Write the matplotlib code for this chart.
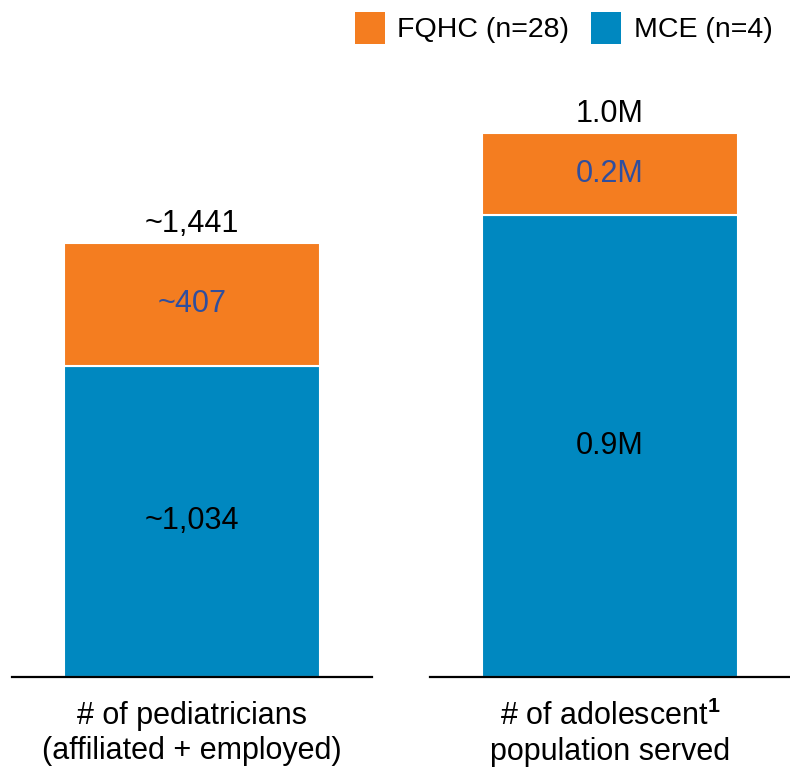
import matplotlib
matplotlib.use("Agg")
import matplotlib.pyplot as plt
from matplotlib.patches import Patch

plt.rcParams['font.family'] = ['Liberation Sans', 'DejaVu Sans']
plt.rcParams['mathtext.fontset'] = 'custom'
plt.rcParams['mathtext.rm'] = 'Liberation Sans'
plt.rcParams['mathtext.bf'] = 'Liberation Sans:bold'

categories = ["# of pediatricians\n(affiliated + employed)", "# of adolescent$^{\\mathbf{1}}$\npopulation served"]
series_names = ["FQHC (n=28)", "MCE (n=4)"]
mce_values = [1034, 0.85]
fqhc_values = [407, 0.15]
mce_labels = ["~1,034", "0.9M"]
fqhc_labels = ["~407", "0.2M"]
total_labels = ["~1,441", "1.0M"]
ylim_tops = [1916, 1.0607]

ORANGE = "#F47D20"
BLUE = "#0088C0"
LABEL_BLUE = "#2F4E9E"

fig = plt.figure(figsize=(7.9, 7.69), dpi=100)
W, H = 790, 769
positions = [(12, 372), (430, 790)]
bottom_px, top_px = 677, 100
FS = 22

for i, (x0, x1) in enumerate(positions):
    ax = fig.add_axes([x0 / W, (H - bottom_px) / H, (x1 - x0) / W, (bottom_px - top_px) / H])
    bw = 256 / 360
    ax.bar([0], [mce_values[i]], width=bw, color=BLUE, edgecolor="white", linewidth=1.5)
    ax.bar([0], [fqhc_values[i]], bottom=[mce_values[i]], width=bw, color=ORANGE,
           edgecolor="white", linewidth=1.5)
    ax.set_xlim(-0.5, 0.5)
    ax.set_ylim(0, ylim_tops[i])
    for s in ["top", "left", "right"]:
        ax.spines[s].set_visible(False)
    ax.spines["bottom"].set_linewidth(1.6)
    ax.spines["bottom"].set_color("black")
    ax.set_yticks([])
    ax.set_xticks([0])
    ax.set_xticklabels([categories[i]], fontsize=FS, linespacing=1.22)
    ax.tick_params(axis="x", length=0, pad=17)
    total = mce_values[i] + fqhc_values[i]
    ax.text(0, mce_values[i] / 2, mce_labels[i], ha="center", va="center", fontsize=FS, color="black")
    ax.text(0, mce_values[i] + fqhc_values[i] / 2, fqhc_labels[i], ha="center", va="center",
            fontsize=FS, color=LABEL_BLUE)
    ax.annotate(total_labels[i], (0, total), xytext=(0, 3), textcoords="offset points",
                ha="center", va="bottom", fontsize=FS, color="black")

handles = [Patch(facecolor=ORANGE, edgecolor="none"), Patch(facecolor=BLUE, edgecolor="none")]
fig.legend(handles, series_names, loc="center right", bbox_to_anchor=(0.992, 1 - 28 / H),
           ncol=2, frameon=False, fontsize=20.5, handlelength=1.05, handleheight=1.4,
           handletextpad=0.45, columnspacing=0.75, borderaxespad=0)

fig.savefig("out.png", dpi=100)
